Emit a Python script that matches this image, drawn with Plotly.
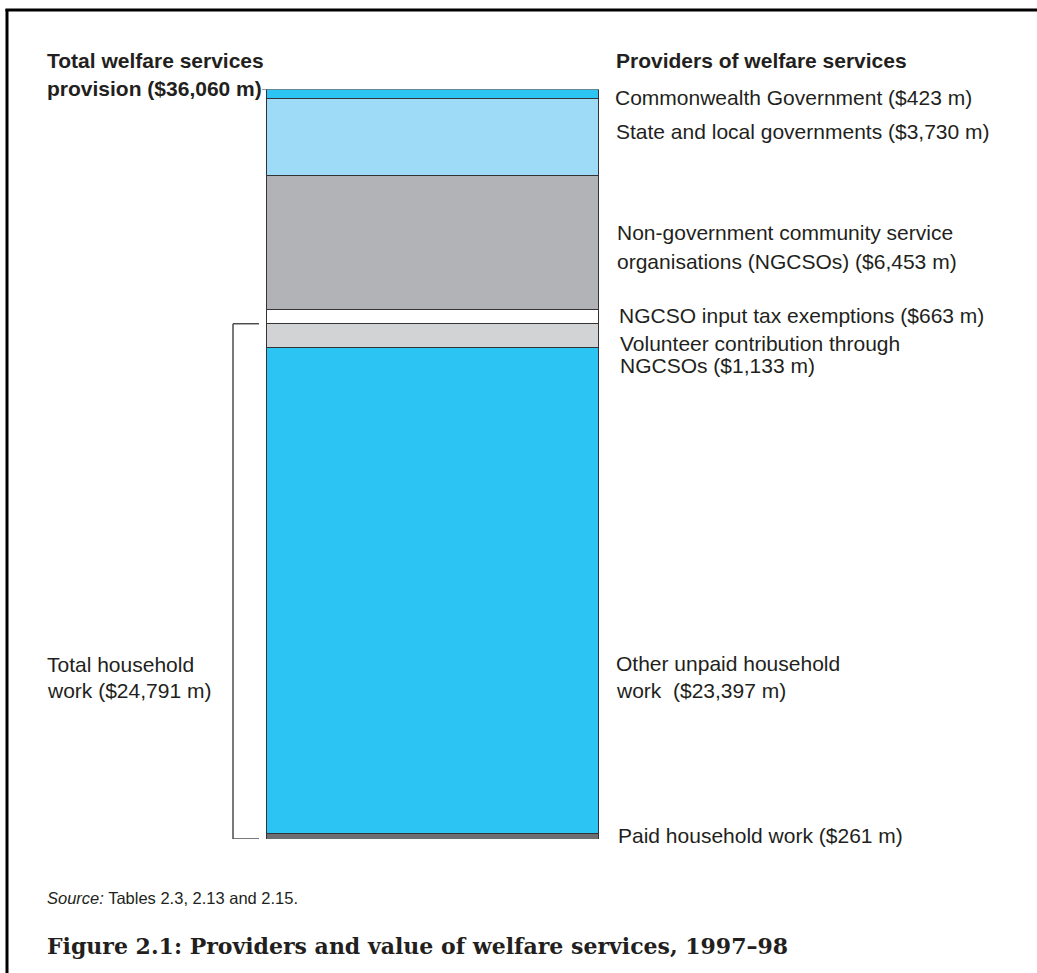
import plotly.graph_objects as go

# Welfare services provision, 1997-98 ($ million), stacked from the bottom up
providers = [
    "Paid household work",
    "Other unpaid household work",
    "Volunteer contribution through NGCSOs",
    "NGCSO input tax exemptions",
    "Non-government community service organisations (NGCSOs)",
    "State and local governments",
    "Commonwealth Government",
]
values = [261, 23397, 1133, 663, 6453, 3730, 423]
household_parts = ["Paid household work", "Other unpaid household work",
                   "Volunteer contribution through NGCSOs"]

colors = ["#6d6e71", "#2cc4f2", "#d1d3d4", "#ffffff", "#b1b3b6", "#9ddbf6", "#2cc4f2"]

W, H = 1037, 973
BAR_X, BAR_W = 433, 332
BAR_TOP_PX, BAR_BOTTOM_PX = 89.5, 839

total = sum(values)
household = sum(v for p, v in zip(providers, values) if p in household_parts)
val = dict(zip(providers, values))


def py(px):
    """Pixel row -> paper fraction."""
    return 1 - px / H


fig = go.Figure()
for name, v, c in zip(providers, values, colors):
    fig.add_trace(go.Bar(
        x=[BAR_X], y=[v], width=BAR_W, name=name,
        marker=dict(color=c, line=dict(color="#333335", width=1)),
        hoverinfo="name+y",
    ))

TXT = "#231f20"
SANS = "Liberation Sans, Arial, sans-serif"
SERIF = "DejaVu Serif, serif"
PAD = 3  # annotation box padding before the first glyph
annotations = []


def label(text, x, ypx, size=21, bold=False, font=SANS):
    if bold:
        text = f"<b>{text}</b>"
    annotations.append(dict(
        text=text, x=x - PAD, y=py(ypx), xref="x", yref="paper",
        xanchor="left", yanchor="middle", showarrow=False,
        font=dict(family=font, size=size, color=TXT),
    ))


def money(v):
    return f"(${v:,} m)"


# Column headers
label("Total welfare services", 48, 60.5, bold=True)
label(f"provision {money(total)}", 48, 88, bold=True)
label("Providers of welfare services", 617, 60.5, bold=True)

# Provider labels
label(f"Commonwealth Government {money(val['Commonwealth Government'])}", 616, 97.5)
label(f"State and local governments {money(val['State and local governments'])}", 617, 132)
label("Non-government community service", 618, 233)
label(f"organisations (NGCSOs) {money(val['Non-government community service organisations (NGCSOs)'])}", 618, 261)
label(f"NGCSO input tax exemptions {money(val['NGCSO input tax exemptions'])}", 620, 315.5)
label("Volunteer contribution through", 621, 343)
label(f"NGCSOs {money(val['Volunteer contribution through NGCSOs'])}", 621, 365.5)
label("Other unpaid household", 617, 663)
label(f"work\u00a0\u00a0{money(val['Other unpaid household work'])}", 617, 690)
label(f"Paid household work {money(val['Paid household work'])}", 619, 835)

# Household bracket label
label("Total household", 48, 664)
label(f"work {money(household)}", 48, 690)

# Source and caption
label("<i>Source:</i> Tables 2.3, 2.13 and 2.15.", 48, 897.5, size=16.5)
label("Figure 2.1: Providers and value of welfare services, 1997\u201398", 48, 946,
      size=22, bold=True, font=SERIF)

shapes = []
BRACKET = dict(color="#4d4d4f", width=1.5)
# Bracket spanning all household contributions
shapes.append(dict(type="line", xref="x", yref="y", x0=233, x1=233, y0=0, y1=household, line=BRACKET))
shapes.append(dict(type="line", xref="x", yref="y", x0=233, x1=259, y0=household, y1=household, line=BRACKET))
shapes.append(dict(type="line", xref="x", yref="y", x0=233, x1=259, y0=0, y1=0, line=BRACKET))
# Leader from the total heading to the top of the bar
shapes.append(dict(type="line", xref="x", yref="y", x0=262, x1=BAR_X - BAR_W / 2, y0=total, y1=total,
                   line=dict(color="#333335", width=1)))
# Page frame (left and top rules)
shapes.append(dict(type="line", xref="x", yref="paper", x0=7, x1=7, y0=py(9), y1=0,
                   line=dict(color="#000000", width=3)))
shapes.append(dict(type="line", xref="x", yref="paper", x0=5.5, x1=W, y0=py(10), y1=py(10),
                   line=dict(color="#000000", width=3)))

fig.update_layout(
    width=W, height=H,
    margin=dict(l=0, r=0, t=0, b=0),
    paper_bgcolor="white", plot_bgcolor="white",
    barmode="stack", bargap=0, showlegend=False,
    xaxis=dict(range=[0, W], domain=[0, 1], visible=False, fixedrange=True),
    yaxis=dict(range=[0, total], domain=[py(BAR_BOTTOM_PX), py(BAR_TOP_PX)],
               visible=False, fixedrange=True),
    annotations=annotations,
    shapes=shapes,
)

fig.write_html("out.html")
